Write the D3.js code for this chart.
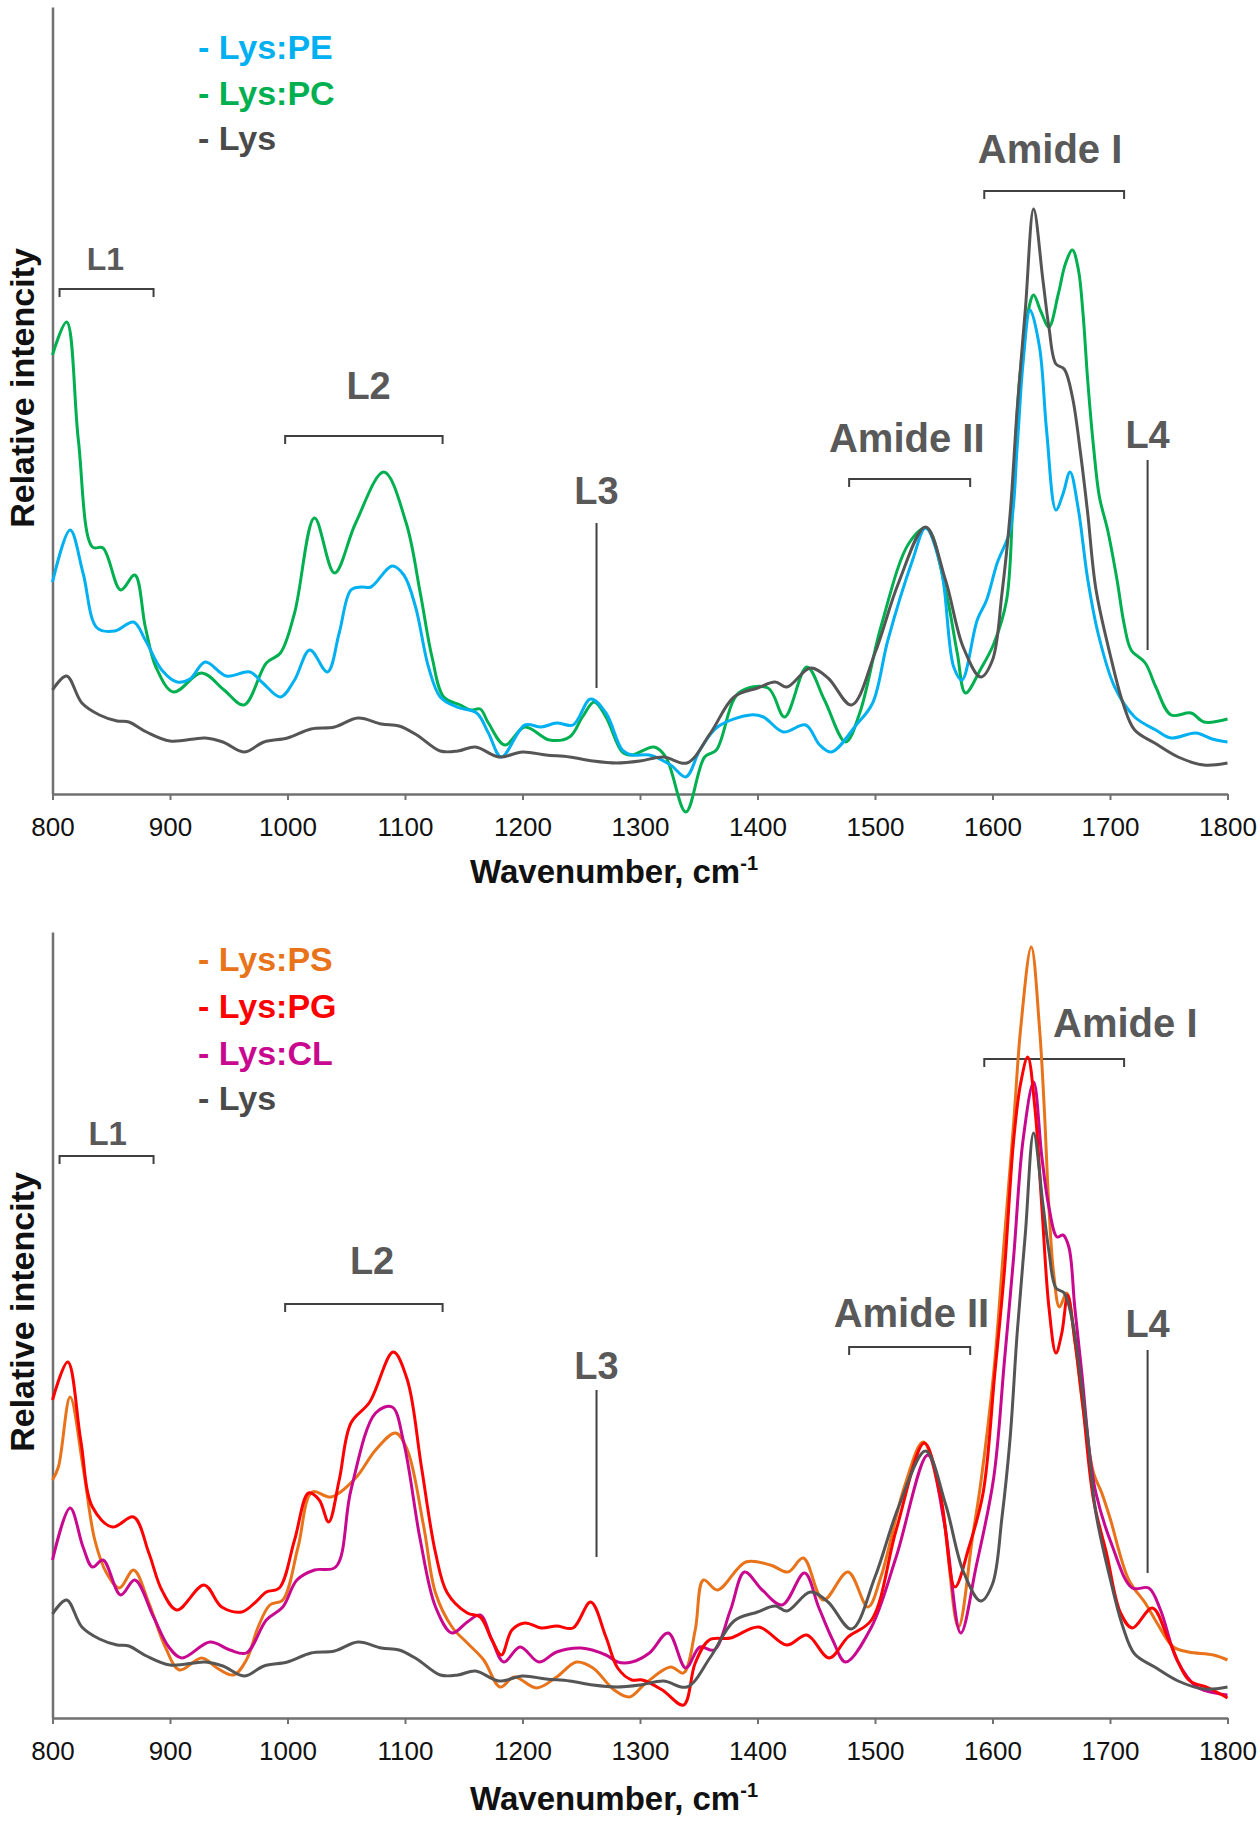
<!DOCTYPE html>
<html><head><meta charset="utf-8">
<script src="https://cdn.jsdelivr.net/npm/d3@7"></script>
<style>
body{margin:0;background:#fff}
svg{display:block}
text{font-family:Arial,"Liberation Sans",sans-serif}
</style>
</head><body>
<svg id="c" width="1260" height="1821"></svg>
<script>
// ---------- data ----------
const wavenumberTicks = [800,900,1000,1100,1200,1300,1400,1500,1600,1700,1800];

// [wavenumber, relative intensity (a.u.)]
const lys = [[800,104],[812,118],[825,91],[840,79],[855,73],[865,72],[880,62],[900,53],[930,56],[945,52],[963,42],[980,52],[1000,56],[1020,65],[1040,67],[1060,76],[1080,70],[1095,68],[1110,59],[1130,43],[1145,43],[1160,47],[1180,37],[1200,42],[1220,39],[1240,37],[1260,33],[1280,31],[1300,33],[1320,37],[1340,31],[1360,61],[1380,97],[1400,106],[1415,112],[1425,107],[1445,126],[1460,116],[1480,89],[1500,141],[1520,211],[1543,267],[1560,214],[1575,147],[1590,117],[1600,134],[1608,200],[1615,280],[1621,385],[1628,485],[1635,585],[1643,513],[1648,467],[1654,430],[1661,425],[1668,397],[1675,340],[1681,281],[1688,205],[1700,140],[1711,91],[1721,64],[1738,51],[1758,37],[1780,29],[1800,31]];

const lysPE = [[800,212],[815,264],[826,221],[838,166],[853,163],[869,172],[879,154],[893,124],[906,112],[917,115],[930,132],[948,118],[968,122],[979,111],[994,97],[1006,114],[1019,144],[1034,122],[1044,161],[1054,204],[1063,207],[1071,207],[1089,228],[1099,219],[1109,187],[1120,127],[1130,97],[1144,87],[1161,81],[1171,61],[1182,37],[1202,69],[1216,67],[1229,71],[1243,69],[1258,95],[1271,81],[1285,44],[1293,39],[1308,39],[1326,29],[1339,17],[1351,44],[1366,67],[1394,79],[1405,77],[1422,62],[1441,69],[1453,49],[1463,42],[1484,69],[1498,91],[1511,154],[1532,234],[1543,266],[1556,227],[1567,127],[1574,114],[1587,174],[1595,194],[1604,231],[1615,264],[1621,347],[1626,431],[1632,484],[1640,447],[1646,364],[1654,284],[1660,300],[1666,322],[1673,285],[1681,215],[1690,160],[1704,107],[1721,77],[1739,64],[1752,56],[1773,61],[1787,55],[1800,52]];

const lysPC = [[800,439],[812,472],[822,354],[834,247],[843,246],[858,204],[870,219],[879,167],[888,127],[903,102],[927,121],[946,104],[963,89],[982,131],[994,141],[1006,181],[1023,276],[1040,221],[1058,271],[1082,322],[1101,271],[1113,201],[1123,137],[1133,97],[1147,89],[1156,84],[1164,85],[1171,71],[1185,49],[1202,67],[1223,54],[1240,57],[1251,77],[1261,92],[1271,77],[1285,42],[1293,39],[1312,47],[1322,37],[1339,-18],[1355,37],[1365,44],[1384,101],[1409,106],[1423,77],[1442,127],[1457,94],[1475,52],[1487,81],[1505,167],[1529,251],[1544,266],[1560,204],[1570,141],[1577,101],[1590,125],[1601,150],[1612,194],[1618,314],[1623,414],[1630,481],[1635,499],[1641,483],[1648,467],[1656,500],[1662,530],[1668,544],[1673,525],[1677,481],[1681,414],[1686,347],[1691,297],[1698,264],[1706,214],[1712,170],[1718,144],[1730,131],[1739,107],[1752,79],[1769,81],[1780,72],[1800,75]];

const lysPS = [[800,238],[805,251],[815,321],[826,251],[836,178],[846,145],[857,130],[869,148],[882,115],[896,71],[908,48],[927,60],[940,50],[954,43],[965,58],[975,91],[985,113],[996,118],[1009,171],[1021,226],[1037,221],[1058,240],[1075,268],[1092,285],[1102,268],[1116,191],[1126,125],[1140,91],[1153,75],[1167,58],[1181,31],[1193,41],[1212,30],[1229,41],[1246,56],[1260,50],[1278,28],[1291,21],[1305,35],[1326,51],[1337,45],[1347,88],[1354,138],[1366,128],[1390,156],[1411,153],[1426,146],[1439,160],[1456,118],[1477,146],[1494,111],[1505,141],[1525,231],[1541,276],[1556,218],[1571,91],[1583,181],[1590,235],[1601,345],[1610,478],[1618,595],[1624,690],[1633,771],[1640,690],[1644,611],[1648,511],[1652,445],[1657,411],[1663,425],[1670,378],[1677,311],[1686,245],[1693,225],[1700,200],[1716,138],[1730,115],[1740,95],[1754,71],[1767,66],[1788,63],[1800,58]];

const lysPG = [[800,318],[813,356],[824,278],[834,211],[851,191],[869,201],[882,165],[893,128],[906,108],[929,133],[944,111],[961,106],[972,115],[982,126],[993,130],[1006,178],[1018,225],[1027,218],[1035,196],[1044,238],[1054,295],[1070,316],[1090,366],[1102,338],[1114,251],[1126,165],[1136,125],[1153,105],[1164,101],[1174,78],[1182,63],[1191,88],[1202,95],[1216,90],[1229,92],[1243,90],[1258,116],[1271,81],[1281,50],[1293,38],[1302,38],[1319,28],[1337,13],[1347,55],[1359,78],[1377,80],[1401,91],[1425,73],[1442,83],[1461,60],[1477,81],[1497,98],[1518,188],[1542,275],[1556,221],[1568,131],[1580,171],[1592,225],[1602,345],[1610,445],[1618,578],[1624,635],[1630,661],[1636,611],[1642,511],[1648,411],[1654,365],[1659,385],[1664,423],[1670,378],[1677,311],[1686,218],[1697,165],[1709,105],[1719,90],[1736,110],[1750,78],[1767,38],[1784,30],[1800,20]];

const lysCL = [[800,158],[815,210],[826,171],[834,151],[843,158],[858,123],[870,138],[886,101],[899,71],[910,60],[934,76],[951,68],[965,65],[982,98],[996,111],[1008,138],[1023,148],[1041,151],[1054,228],[1075,305],[1089,311],[1099,275],[1113,178],[1126,111],[1140,85],[1153,96],[1164,103],[1174,78],[1184,56],[1198,71],[1214,56],[1229,66],[1250,70],[1271,63],[1281,56],[1293,56],[1308,65],[1324,85],[1339,50],[1351,71],[1363,68],[1377,108],[1389,146],[1404,128],[1421,113],[1440,145],[1452,111],[1464,78],[1475,56],[1497,91],[1518,161],[1545,263],[1559,195],[1573,85],[1586,151],[1601,240],[1610,355],[1618,461],[1626,578],[1635,636],[1642,561],[1648,511],[1655,481],[1660,483],[1665,471],[1670,411],[1676,345],[1683,261],[1688,225],[1701,175],[1719,130],[1733,130],[1743,108],[1757,58],[1774,31],[1800,23]];

const bandNames = ["L1","L2","Amide II","Amide I"];
const bandRanges = [[806,886],[998,1132],[1478,1581],[1593,1712]];
const lineNames = ["L3","L4"];
const lineWavenumbers = [1263,1732];

const topLegend = ["Lys:PE","Lys:PC","Lys"];
const bottomLegend = ["Lys:PS","Lys:PG","Lys:CL","Lys"];

// ---------- drawing ----------
const C = {PE:"#00B0F0", PC:"#00B050", Lys:"#555555", PS:"#E8731A", PG:"#FF0000", CL:"#C8088E"};
const labelGrey = "#595959";
const svg = d3.select("#c");
svg.append("rect").attr("width",1260).attr("height",1821).attr("fill","#fff");

const x = d3.scaleLinear().domain([800,1800]).range([52.5,1227.5]);

function drawPanel(p){
  const y = d3.scaleLinear().domain([0, p.y1 - p.y0]).range([p.y1, p.y0]);
  const g = svg.append("g");

  // axes
  const xa = g.append("g").attr("transform",`translate(0,${p.y1})`)
    .call(d3.axisBottom(x).tickValues(wavenumberTicks).tickFormat(d3.format("d"))
      .tickSize(6).tickSizeOuter(0).tickPadding(18));
  xa.select(".domain").attr("stroke","#707070").attr("stroke-width",2.5);
  xa.selectAll(".tick line").attr("stroke","#707070").attr("stroke-width",2);
  xa.selectAll(".tick text").attr("font-size",26).attr("fill","#111").attr("font-family","Arial, 'Liberation Sans', sans-serif");
  const ya = g.append("g").attr("transform","translate(52.5,0)")
    .call(d3.axisLeft(y).tickValues([]).tickSizeOuter(0));
  ya.select(".domain").attr("stroke","#707070").attr("stroke-width",2.5);

  // axis titles
  const xt = g.append("text").attr("x",470).attr("y",p.titleY)
    .attr("font-size",33).attr("font-weight","bold").attr("fill","#111");
  xt.append("tspan").text("Wavenumber, cm");
  xt.append("tspan").attr("font-size",20).attr("dy",-13).text("-1");
  g.append("text").attr("transform",`translate(34,${p.yTitleC}) rotate(-90)`)
    .attr("text-anchor","middle").attr("font-size",34).attr("font-weight","bold")
    .attr("fill","#111").text("Relative intencity");

  // annotations: brackets
  bandNames.forEach((n,i)=>{
    const a = p.bands[i];
    const [w0,w1] = bandRanges[i];
    const by = a.by, t = 8;
    g.append("path").attr("d",`M${x(w0)},${by+t}V${by}H${x(w1)}V${by+t}`)
      .attr("fill","none").attr("stroke","#404040").attr("stroke-width",2);
    g.append("text").attr("x",x(a.lx)).attr("y",a.ly).attr("text-anchor","middle")
      .attr("font-size",a.fs).attr("font-weight","bold").attr("fill",labelGrey).text(n);
  });
  lineNames.forEach((n,i)=>{
    const a = p.lines[i];
    const xx = x(lineWavenumbers[i]);
    g.append("line").attr("x1",xx).attr("x2",xx).attr("y1",a.y0).attr("y2",a.y1)
      .attr("stroke","#404040").attr("stroke-width",2);
    g.append("text").attr("x",xx).attr("y",a.ly).attr("text-anchor","middle")
      .attr("font-size",38).attr("font-weight","bold").attr("fill",labelGrey).text(n);
  });

  // curves
  const line = d3.line().x(d=>x(d[0])).y(d=>y(d[1])).curve(d3.curveCatmullRom.alpha(0.5));
  p.series.forEach(s=>{
    g.append("path").datum(s.data).attr("d",line).attr("fill","none")
      .attr("stroke",s.color).attr("stroke-width",3).attr("stroke-linejoin","round");
  });

  // legend
  p.legend.forEach((n,i)=>{
    g.append("text").attr("x",198).attr("y",p.legendY[i]).attr("font-size",34)
      .attr("font-weight","bold").attr("fill",p.legendColors[i]).text("- " + n);
  });
}

drawPanel({
  y0:7, y1:794, titleY:883, yTitleC:388,
  series:[{data:lysPC,color:C.PC},{data:lysPE,color:C.PE},{data:lys,color:C.Lys}],
  legend:topLegend, legendColors:[C.PE,C.PC,"#4a4a4a"], legendY:[59,105,150],
  bands:[{by:289,lx:845,ly:270,fs:32},{by:436,lx:1069,ly:399,fs:38},{by:479,lx:1527,ly:452,fs:40},{by:191,lx:1649,ly:163,fs:40}],
  lines:[{y0:523,y1:688,ly:504},{y0:460,y1:650,ly:448}]
});

drawPanel({
  y0:932, y1:1718, titleY:1810, yTitleC:1312,
  series:[{data:lysPS,color:C.PS},{data:lysCL,color:C.CL},{data:lysPG,color:C.PG},{data:lys,color:C.Lys}],
  legend:bottomLegend, legendColors:[C.PS,C.PG,C.CL,"#4a4a4a"], legendY:[971,1018,1065,1110],
  bands:[{by:1156,lx:847,ly:1145,fs:33},{by:1304,lx:1072,ly:1274,fs:38},{by:1347,lx:1531,ly:1327,fs:40},{by:1059,lx:1713,ly:1037,fs:40}],
  lines:[{y0:1390,y1:1557,ly:1379},{y0:1350,y1:1573,ly:1337}]
});
</script>
</body></html>
